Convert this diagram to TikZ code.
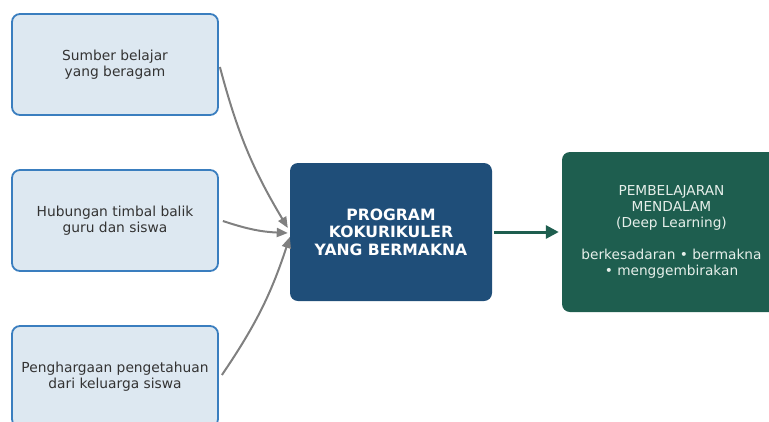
\documentclass[tikz,border=0pt]{standalone}
\usepackage{fontspec}
\setmainfont{DejaVu Sans}
\usetikzlibrary{arrows.meta,calc}
\definecolor{lightfill}{HTML}{DDE8F1}
\definecolor{lightborder}{HTML}{3A7EBF}
\definecolor{centerfill}{HTML}{1F4E79}
\definecolor{greenfill}{HTML}{1E5E4F}
\definecolor{textdark}{HTML}{333333}
\definecolor{textlight}{HTML}{E6EFEA}
\definecolor{arrowgray}{HTML}{808080}
\tikzset{
  srcbox/.style={draw=lightborder, fill=lightfill, line width=1.8pt, rounded corners=8pt,
    minimum width=206pt, minimum height=101pt, align=center, text=textdark,
    font=\fontsize{13.8}{16}\selectfont, inner sep=0pt},
  centerbox/.style={fill=centerfill, rounded corners=8pt, minimum width=202pt, minimum height=138pt,
    align=center, text=white, font=\fontsize{15.6}{17.5}\selectfont\bfseries, inner sep=0pt},
  outbox/.style={fill=greenfill, rounded corners=8pt, minimum width=219pt, minimum height=160pt,
    align=center, text=textlight, font=\fontsize{13.7}{16}\selectfont, inner sep=0pt},
  grayarrow/.style={draw=arrowgray, line width=2pt, -{Triangle[length=11pt,width=9pt]}},
  greenarrow/.style={draw=greenfill, line width=3pt, -{Triangle[length=13pt,width=13pt]}}
}
\begin{document}
\begin{tikzpicture}[x=1pt,y=-1pt]
\useasboundingbox (0,0) rectangle (769,421);
\node[srcbox] (b1) at (115,64.5) {Sumber belajar\\yang beragam};
\node[srcbox] (b2) at (115,220.5) {Hubungan timbal balik\\guru dan siswa};
\node[srcbox] (b3) at (115,376.5) {Penghargaan pengetahuan\\dari keluarga siswa};
\node[centerbox] (c) at (391,232) {PROGRAM\\KOKURIKULER\\YANG BERMAKNA};
\node[outbox] (o) at (671.5,232) {PEMBELAJARAN\\MENDALAM\\(Deep Learning)\\[16pt]berkesadaran • bermakna\\• menggembirakan};
\draw[grayarrow] ($(b1.east)+(1,2.5)$) to[bend right=8] ($(c.west)+(-2,-4)$);
\draw[grayarrow] ($(b2.east)+(4,0.5)$) to[bend right=8] ($(c.west)+(-2,1)$);
\draw[grayarrow] ($(b3.east)+(3,-1.5)$) to[bend right=8] ($(c.west)+(0,5)$);
\draw[greenarrow] ($(c.east)+(2,0)$) -- ($(o.west)+(-3,0)$);
\end{tikzpicture}
\end{document}
